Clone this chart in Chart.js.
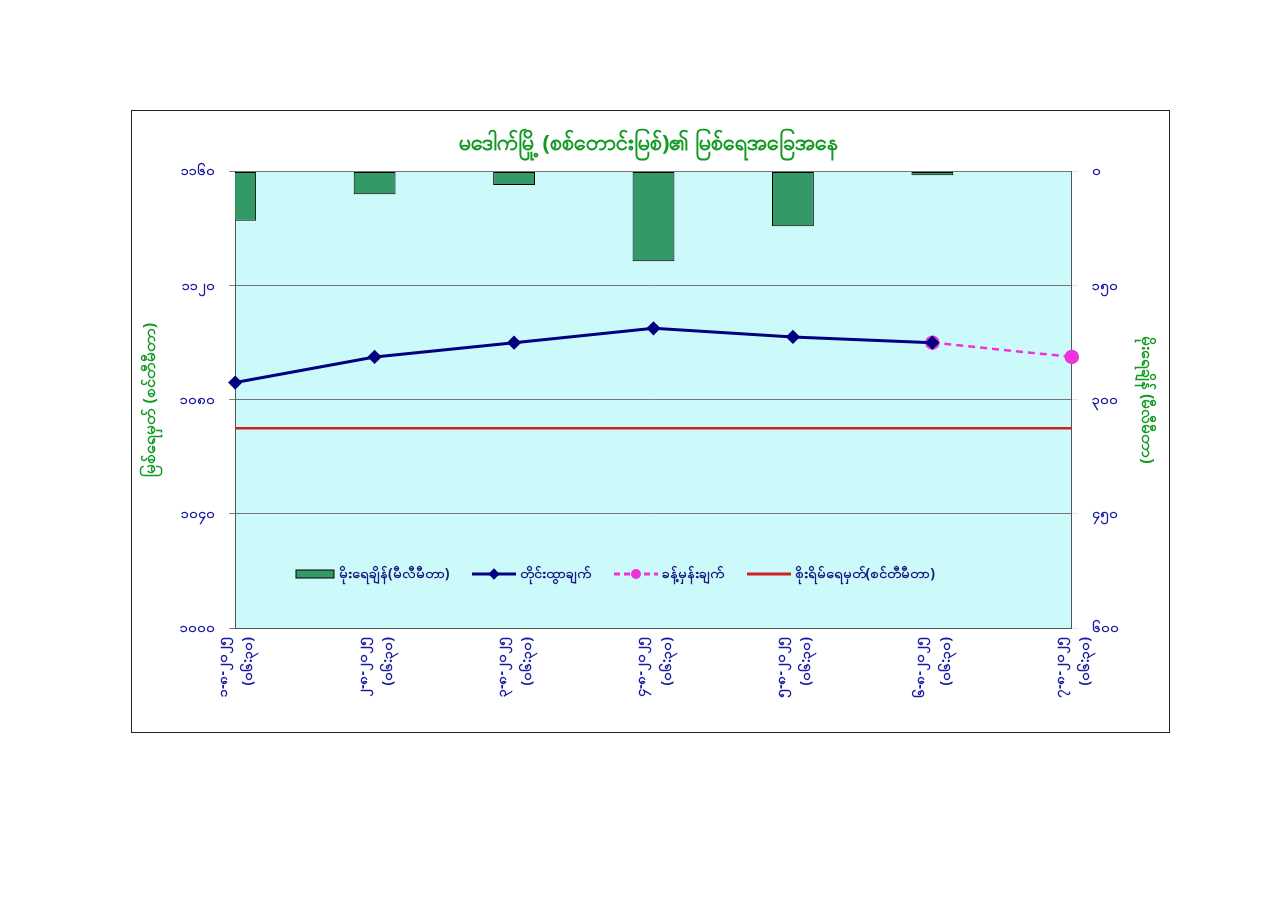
<!DOCTYPE html>
<html>
<head>
<meta charset="utf-8">
<script src="https://cdn.jsdelivr.net/npm/chart.js@4"></script>
<style>
  body { margin: 0; background: #fff; width: 1280px; height: 906px; position: relative; font-family: 'Noto Sans', sans-serif; }
  #box { position: absolute; left: 131px; top: 110px; width: 1037px; height: 621px; border: 1px solid #222; background: #fff; }
  #legend { position: absolute; left: 295px; top: 563px; display: flex; gap: 22px; align-items: center; font-size: 14px; font-weight: bold; color: #1a1a80; }
  #legend span.item { display: flex; align-items: center; gap: 4px; }
</style>
</head>
<body>
<div id="box"><canvas id="c"></canvas></div>
<div id="legend">
  <span class="item"><svg width="40" height="12"><rect x="1" y="2" width="38" height="8" fill="#339966" stroke="#000"/></svg>မိုးရေချိန်(မီလီမီတာ)</span>
  <span class="item"><svg width="44" height="12"><line x1="0" y1="6" x2="44" y2="6" stroke="#000080" stroke-width="3"/><rect x="18" y="2" width="8" height="8" fill="#000080" transform="rotate(45 22 6)"/></svg>တိုင်းထွာချက်</span>
  <span class="item"><svg width="44" height="12"><line x1="0" y1="6" x2="44" y2="6" stroke="#ee33dd" stroke-width="3" stroke-dasharray="6,4"/><circle cx="22" cy="6" r="5" fill="#ee33dd"/></svg>ခန့်မှန်းချက်</span>
  <span class="item"><svg width="44" height="12"><line x1="0" y1="6" x2="44" y2="6" stroke="#cc2222" stroke-width="3"/></svg>စိုးရိမ်ရေမှတ်(စင်တီမီတာ)</span>
</div>
<script>
// ---- data ----
const dates = ['၁-၈-၂၀၂၅', '၂-၈-၂၀၂၅', '၃-၈-၂၀၂၅', '၄-၈-၂၀၂၅', '၅-၈-၂၀၂၅', '၆-၈-၂၀၂၅', '၇-၈-၂၀၂၅'];
const timeLabel = '(၀၆:၃၀)';
const rainfall = [65, 30, 18, 118, 72, 5, 0];
const observed = [1086, 1095, 1100, 1105, 1102, 1100, null];
const forecast = [null, null, null, null, null, 1100, 1095];
const dangerLevel = [1070, 1070, 1070, 1070, 1070, 1070, 1070];

const mmDigits = '၀၁၂၃၄၅၆၇၈၉';
function toMM(n) { return String(n).replace(/[0-9]/g, d => mmDigits[d]); }

const plotBg = {
  id: 'plotBg',
  beforeDraw(chart) {
    const a = chart.chartArea, ctx = chart.ctx;
    ctx.save();
    ctx.fillStyle = '#ccfafa';
    ctx.fillRect(a.left, a.top, a.right - a.left, a.bottom - a.top);
    ctx.restore();
  }
};

const tickFont = { family: "'Noto Sans', sans-serif", size: 14, weight: 'bold' };

new Chart(document.getElementById('c'), {
  data: {
    labels: dates.map(d => [d, timeLabel]),
    datasets: [
      { type: 'line', label: 'တိုင်းထွာချက်', data: observed, yAxisID: 'y', borderColor: '#000080', backgroundColor: '#000080',
        borderWidth: 3, pointStyle: 'rectRot', pointRadius: 5, order: 1 },
      { type: 'line', label: 'ခန့်မှန်းချက်', data: forecast, yAxisID: 'y', borderColor: '#ee33dd', backgroundColor: '#ee33dd',
        borderWidth: 2.5, borderDash: [7, 5], pointRadius: 6, order: 2 },
      { type: 'line', label: 'စိုးရိမ်ရေမှတ်(စင်တီမီတာ)', data: dangerLevel, yAxisID: 'y', borderColor: '#cc2222',
        borderWidth: 2.5, pointRadius: 0, order: 3 },
      { type: 'bar', label: 'မိုးရေချိန်(မီလီမီတာ)', data: rainfall, yAxisID: 'y1', backgroundColor: '#339966',
        borderColor: '#000', borderWidth: 1, borderSkipped: false, barPercentage: 0.3, categoryPercentage: 1, order: 4 }
    ]
  },
  options: {
    responsive: true,
    maintainAspectRatio: false,
    animation: false,
    layout: { padding: { left: 5, right: 9, top: 8, bottom: 31 } },
    plugins: {
      legend: { display: false },
      tooltip: { enabled: false },
      title: {
        display: true,
        text: 'မဒေါက်မြို့ (စစ်တောင်းမြစ်)၏ မြစ်ရေအခြေအနေ',
        color: '#119922',
        font: { family: "'Noto Sans', sans-serif", size: 22, weight: 'bold' },
        padding: { top: 12, bottom: 14 }
      }
    },
    scales: {
      x: {
        offset: false,
        grid: { display: false, drawTicks: true, tickLength: 6 },
        border: { color: '#555' },
        ticks: { color: '#1a1aa0', font: { ...tickFont, lineHeight: 1.8 }, minRotation: 90, maxRotation: 90, labelOffset: -12 }
      },
      y: {
        position: 'left',
        min: 1000, max: 1160,
        grid: { color: '#777', tickLength: 6 },
        border: { color: '#555' },
        afterBuildTicks: s => { s.ticks = [1000, 1040, 1080, 1120, 1160].map(v => ({ value: v })); },
        ticks: { color: '#1a1aa0', font: tickFont, callback: v => toMM(v), padding: 14 },
        title: { display: true, text: 'မြစ်ရေမှတ် (စင်တီမီတာ)', color: '#119922', padding: { bottom: 6 },
          font: { family: "'Noto Sans', sans-serif", size: 16, weight: 'bold' } }
      },
      y1: {
        position: 'right',
        reverse: true,
        min: 0, max: 600,
        grid: { drawOnChartArea: false, tickLength: 6 },
        border: { color: '#555' },
        afterBuildTicks: s => { s.ticks = [0, 150, 300, 450, 600].map(v => ({ value: v })); },
        ticks: { color: '#1a1aa0', font: tickFont, callback: v => toMM(v), padding: 14 },
        title: { display: true, text: 'မိုးရေချိန် (မီလီမီတာ)', color: '#119922',
          font: { family: "'Noto Sans', sans-serif", size: 16, weight: 'bold' } }
      }
    }
  },
  plugins: [plotBg]
});
</script>
</body>
</html>
